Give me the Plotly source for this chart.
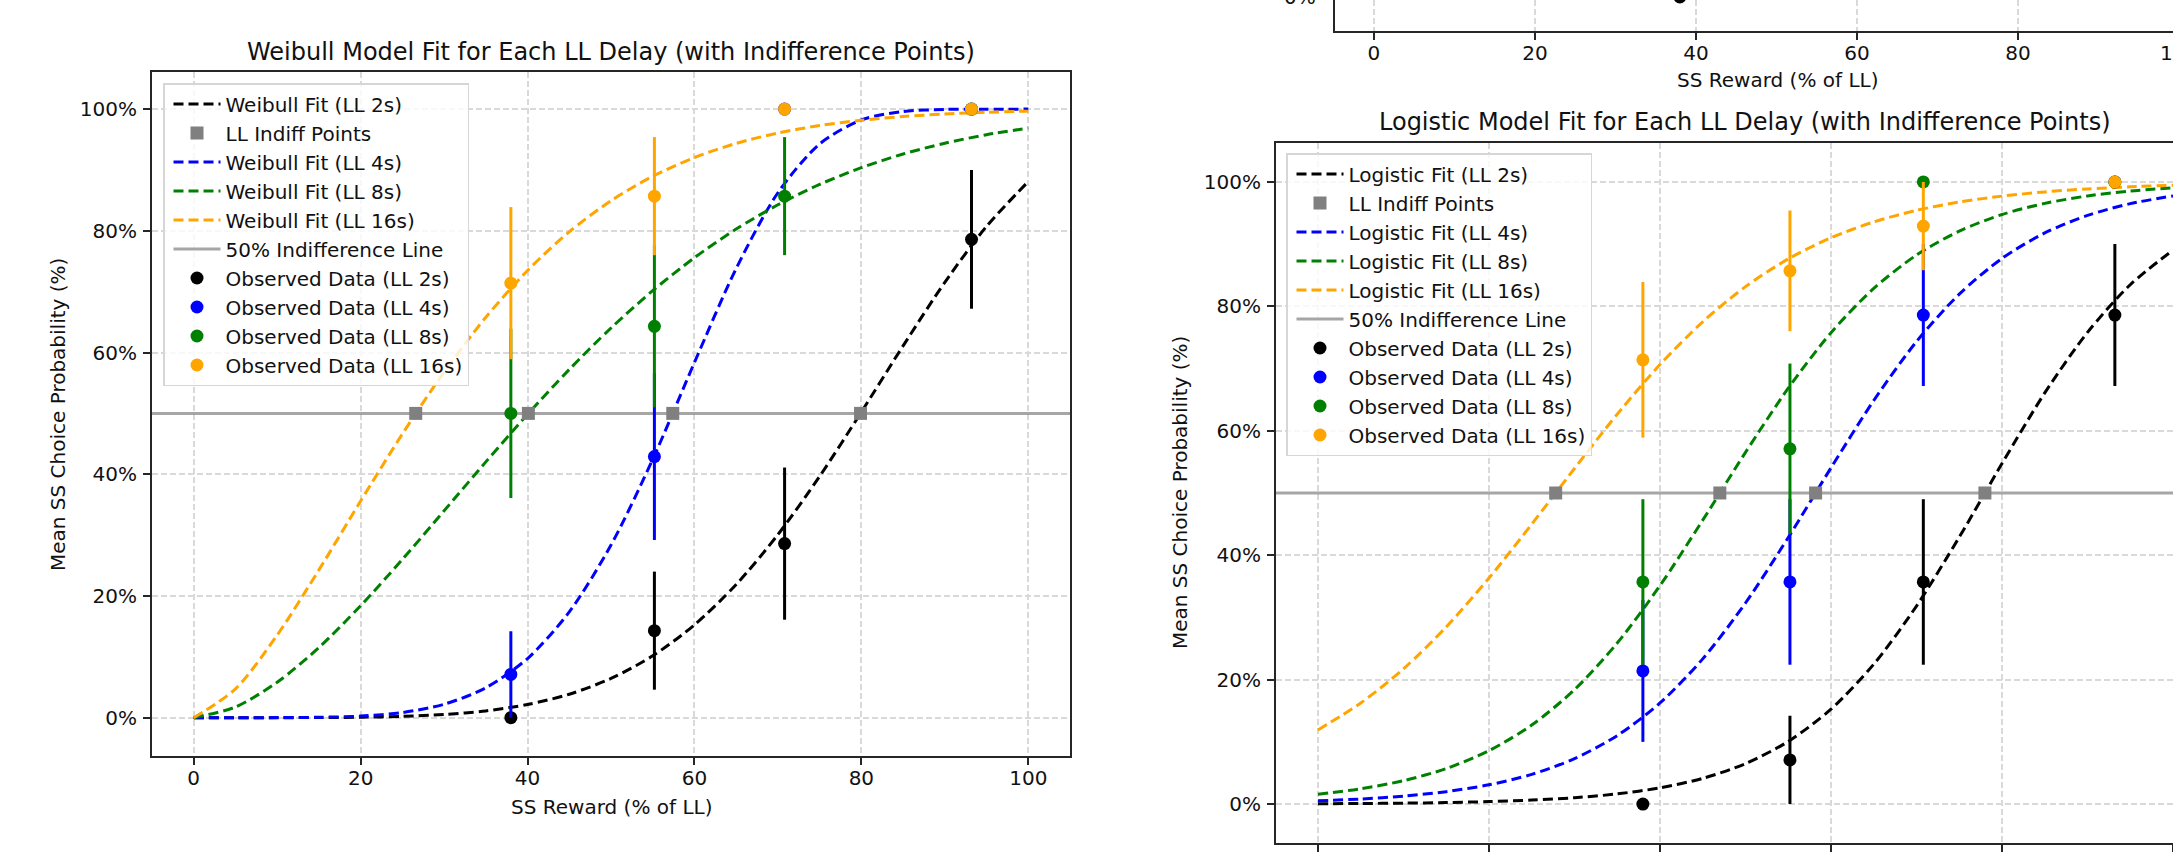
import plotly.graph_objects as go

W, H = 2173, 853

# ---------------- data ----------------
X_FIT = [0, 5, 10, 15, 20, 25, 30, 35, 40, 45, 50, 55, 60, 65, 70, 75, 80, 85, 90, 95, 100]
DELAYS = ["2s", "4s", "8s", "16s"]
COLORS = ["#000000", "#0000ff", "#008000", "#ffa500"]

# Weibull fits (% SS choice)
weibull_2s = [0.0, 0.0, 0.0, 0.02, 0.07, 0.21, 0.52, 1.11, 2.16, 3.85, 6.44, 10.16, 15.25, 21.88, 30.08, 39.65, 50.22, 61.10, 71.54, 80.74, 88.10]
weibull_4s = [0.0, 0.0, 0.01, 0.06, 0.26, 0.84, 2.20, 4.91, 9.72, 17.37, 28.36, 42.46, 58.37, 73.81, 86.26, 94.28, 98.22, 99.61, 99.95, 99.99, 100.0]
weibull_8s = [0.0, 1.75, 5.82, 11.52, 18.40, 26.00, 33.99, 42.03, 49.84, 57.22, 64.03, 70.17, 75.59, 80.29, 84.28, 87.63, 90.38, 92.62, 94.40, 95.80, 96.89]
weibull_16s = [0.0, 4.72, 13.57, 24.28, 35.60, 46.62, 56.80, 65.80, 73.48, 79.84, 84.95, 88.97, 92.05, 94.37, 96.07, 97.30, 98.18, 98.78, 99.20, 99.48, 99.67]

# Logistic fits
logistic_2s = [0.06, 0.10, 0.15, 0.25, 0.40, 0.64, 1.02, 1.64, 2.61, 4.14, 6.50, 10.07, 15.26, 22.48, 31.83, 42.90, 54.73, 66.08, 75.82, 83.47, 89.04]
logistic_4s = [0.53, 0.82, 1.28, 2.00, 3.10, 4.78, 7.31, 11.01, 16.25, 23.34, 32.32, 42.85, 54.04, 64.86, 74.33, 81.96, 87.70, 91.79, 94.61, 96.50, 97.74]
logistic_8s = [1.60, 2.46, 3.76, 5.71, 8.58, 12.70, 18.39, 25.89, 35.12, 45.63, 56.53, 66.84, 75.76, 82.88, 88.24, 92.09, 94.75, 96.54, 97.74, 98.53, 99.05]
logistic_16s = [11.92, 16.25, 21.74, 28.47, 36.33, 44.99, 53.94, 62.67, 70.64, 77.51, 83.16, 87.62, 91.02, 93.56, 95.42, 96.76, 97.71, 98.39, 98.87, 99.21, 99.45]

# Observed data
X_OBS = [38.0, 55.2, 70.8, 93.2]
w_obs_2s = [0.0, 14.3, 28.6, 78.6]
w_obs_4s = [7.1, 42.9, 100.0, 100.0]
w_obs_8s = [50.0, 64.3, 85.7, 100.0]
w_obs_16s = [71.4, 85.7, 100.0, 100.0]
w_err_2s = [0.0, 9.7, 12.5, 11.4]
w_err_4s = [7.1, 13.7, 0.0, 0.0]
w_err_8s = [13.9, 13.3, 9.7, 0.0]
w_err_16s = [12.5, 9.7, 0.0, 0.0]

l_obs_2s = [0.0, 7.1, 35.7, 78.6]
l_obs_4s = [21.4, 35.7, 78.6, 100.0]
l_obs_8s = [35.7, 57.1, 100.0, 100.0]
l_obs_16s = [71.4, 85.7, 92.9, 100.0]
l_err_2s = [0.0, 7.1, 13.3, 11.4]
l_err_4s = [11.4, 13.3, 11.4, 0.0]
l_err_8s = [13.3, 13.7, 0.0, 0.0]
l_err_16s = [12.5, 9.7, 7.1, 0.0]

# Indifference points (x at 50%)
w_indiff = [79.9, 57.4, 40.1, 26.6]
l_indiff = [78.0, 58.2, 47.0, 27.8]
INDIFF_Y = 50

# top (cropped) panel visible point
top_obs_x = [38.0]
top_obs_y = [0.0]

X_TICKS = [0, 20, 40, 60, 80, 100]
Y_TICKS = [0, 20, 40, 60, 80, 100]
Y_TICKTEXT = ["0%", "20%", "40%", "60%", "80%", "100%"]

W_XRANGE = [-5, 105]
W_YRANGE = [-6.3, 106.1]
L_XRANGE = [-4.91, 100.0]
L_YRANGE = [-6.3, 106.2]
T_XRANGE = [-4.84, 99.25]
T_YRANGE = [-5.5, -0.5]

FONT = "DejaVu Sans"
DASH = "10px,5px"
LEG_SIZE = 20

fig = go.Figure()


def add_panel(xa, ya, legend, model, fits, obs, errs, indiff, xrange_line):
    for i, (d, c, f) in enumerate(zip(DELAYS, COLORS, fits)):
        fig.add_trace(go.Scatter(
            x=X_FIT, y=f, mode="lines", name=f"{model} Fit (LL {d})",
            line=dict(color=c, width=3, dash=DASH, shape="spline", smoothing=0.8),
            xaxis=xa, yaxis=ya, legend=legend,
            legendrank=1 if i == 0 else i + 2))
    fig.add_trace(go.Scatter(
        x=indiff, y=[INDIFF_Y] * len(indiff), mode="markers", name="LL Indiff Points",
        marker=dict(symbol="square", size=13, color="#808080"),
        xaxis=xa, yaxis=ya, legend=legend, legendrank=2))
    fig.add_trace(go.Scatter(
        x=xrange_line, y=[INDIFF_Y, INDIFF_Y], mode="lines", name="50% Indifference Line",
        line=dict(color="rgba(128,128,128,0.7)", width=3),
        xaxis=xa, yaxis=ya, legend=legend, legendrank=6))
    for i, (d, c, o, e) in enumerate(zip(DELAYS, COLORS, obs, errs)):
        fig.add_trace(go.Scatter(
            x=X_OBS, y=o, mode="markers", name=f"Observed Data (LL {d})",
            marker=dict(color=c, size=13),
            error_y=dict(type="data", array=e, visible=True, color=c, thickness=3, width=0),
            xaxis=xa, yaxis=ya, legend=legend, legendrank=7 + i))


add_panel("x", "y", "legend", "Weibull",
          [weibull_2s, weibull_4s, weibull_8s, weibull_16s],
          [w_obs_2s, w_obs_4s, w_obs_8s, w_obs_16s],
          [w_err_2s, w_err_4s, w_err_8s, w_err_16s],
          w_indiff, W_XRANGE)
add_panel("x2", "y2", "legend2", "Logistic",
          [logistic_2s, logistic_4s, logistic_8s, logistic_16s],
          [l_obs_2s, l_obs_4s, l_obs_8s, l_obs_16s],
          [l_err_2s, l_err_4s, l_err_8s, l_err_16s],
          l_indiff, [L_XRANGE[0], 105])

fig.add_trace(go.Scatter(x=top_obs_x, y=top_obs_y, mode="markers",
                         marker=dict(color="#000000", size=13), showlegend=False,
                         xaxis="x3", yaxis="y3"))

AX = dict(showline=True, linecolor="#262626", linewidth=2, ticks="outside", ticklen=7,
          tickwidth=2, tickcolor="#262626", showgrid=True, gridcolor="#d9d9d9",
          griddash="6px,3px", gridwidth=1.5, zeroline=False,
          tickfont=dict(family=FONT, size=20, color="#111"))


def px(v):
    return v / W


def py(v):
    return 1 - v / H


LEG = dict(xanchor="left", yanchor="top", bgcolor="rgba(255,255,255,0.8)",
           bordercolor="#d6d6d6", borderwidth=1.5, itemwidth=47, indentation=4,
           font=dict(family=FONT, size=LEG_SIZE, color="#111"), traceorder="normal")

fig.update_layout(
    width=W, height=H, margin=dict(l=0, r=0, t=0, b=0),
    paper_bgcolor="white", plot_bgcolor="white",
    font=dict(family=FONT, size=20, color="#111"),
    xaxis=dict(AX, domain=[px(152), px(1070)], range=W_XRANGE, tickvals=X_TICKS, mirror=True,
               anchor="y", ticklabelstandoff=-4),
    yaxis=dict(AX, domain=[py(756), py(72)], range=W_YRANGE, tickvals=Y_TICKS,
               ticktext=Y_TICKTEXT, mirror=True, anchor="x", ticklabelstandoff=2),
    xaxis2=dict(AX, domain=[px(1276), 1], range=L_XRANGE, tickvals=X_TICKS, mirror=True,
                anchor="y2", showticklabels=False),
    yaxis2=dict(AX, domain=[py(843.3), py(143.3)], range=L_YRANGE, tickvals=Y_TICKS,
                ticktext=Y_TICKTEXT, mirror=False, anchor="x2", ticklabelstandoff=2),
    xaxis3=dict(AX, domain=[px(1335), 1], range=T_XRANGE, tickvals=X_TICKS, mirror=False,
                anchor="y3", ticklabelstandoff=-4),
    yaxis3=dict(AX, domain=[py(31), 1], range=T_YRANGE, tickvals=[0], showticklabels=False,
                mirror=False, anchor="x3"),
    legend=dict(LEG, x=px(163), y=py(83)),
    legend2=dict(LEG, x=px(1286), y=py(153)),
    showlegend=True,
)

ann = [
    dict(text="Weibull Model Fit for Each LL Delay (with Indifference Points)", x=px(611), y=py(52), size=24),
    dict(text="SS Reward (% of LL)", x=px(611), y=py(807), size=20),
    dict(text="Mean SS Choice Probability (%)", x=px(58), y=py(415), size=20, angle=-90),
    dict(text="Logistic Model Fit for Each LL Delay (with Indifference Points)", x=px(1745), y=py(122), size=24),
    dict(text="Mean SS Choice Probability (%)", x=px(1180), y=py(493), size=20, angle=-90),
    dict(text="SS Reward (% of LL)", x=px(1777), y=py(80), size=20),
    dict(text="100", x=px(2179), y=py(53), size=20),
]
for a in ann:
    fig.add_annotation(text=a["text"], x=a["x"], y=a["y"], xref="paper", yref="paper",
                       xanchor="center", yanchor="middle", showarrow=False,
                       textangle=a.get("angle", 0),
                       font=dict(family=FONT, size=a["size"], color="#111"))
fig.add_annotation(text="0%", x=px(1318), y=py(-3), xref="paper", yref="paper",
                   xanchor="right", yanchor="middle", showarrow=False,
                   font=dict(family=FONT, size=20, color="#111"))

fig.write_html("out.html", config={"displayModeBar": False},
               post_script="document.body.style.margin='0';")
